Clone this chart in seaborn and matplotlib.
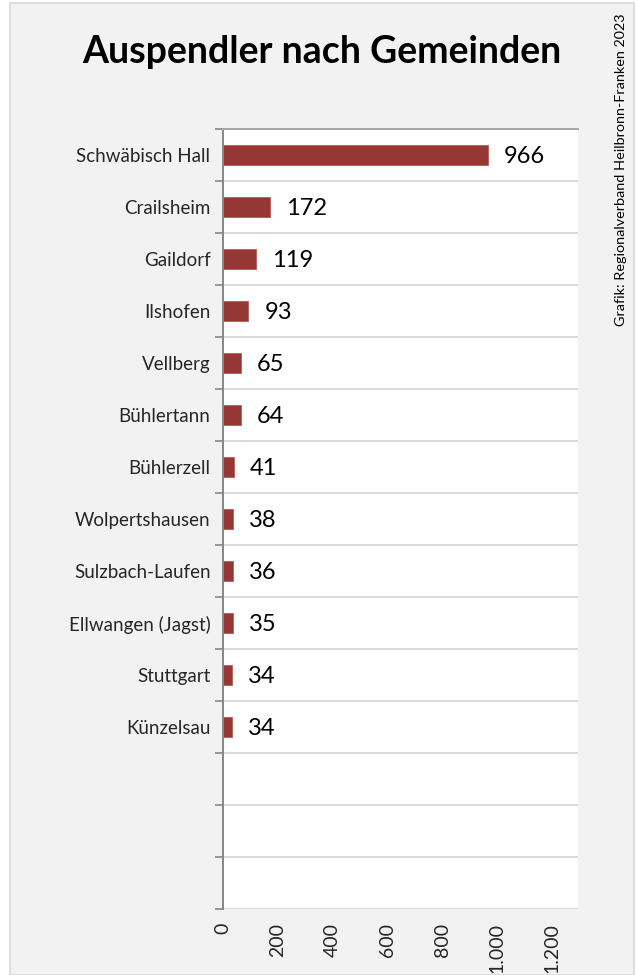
import matplotlib
matplotlib.use("Agg")
import matplotlib.pyplot as plt
import seaborn as sns
import pandas as pd
from matplotlib.ticker import FixedLocator, FuncFormatter
from matplotlib.patches import Rectangle

gemeinden = ["Schwäbisch Hall", "Crailsheim", "Gaildorf", "Ilshofen", "Vellberg",
             "Bühlertann", "Bühlerzell", "Wolpertshausen", "Sulzbach-Laufen",
             "Ellwangen (Jagst)", "Stuttgart", "Künzelsau"]
auspendler = [966, 172, 119, 93, 65, 64, 41, 38, 36, 35, 34, 34]
x_ticks = [0, 200, 400, 600, 800, 1000, 1200]
title = "Auspendler nach Gemeinden"
source = "Grafik: Regionalverband Heilbronn-Franken 2023"

sns.set_theme(style="white")
plt.rcParams['font.family'] = ['Lato', 'DejaVu Sans']

df = pd.DataFrame({"Gemeinde": gemeinden, "Auspendler": auspendler})

fig = plt.figure(figsize=(6.37, 9.75), dpi=100)
fig.patch.set_facecolor("white")
bg = Rectangle((10/637, 0), (634-10)/637, 1 - 3/975,
               transform=fig.transFigure, facecolor="#f2f2f2",
               edgecolor="#d9d9d9", linewidth=1.2, zorder=-10)
fig.patches.append(bg)

ax = fig.add_axes([223/637, 1 - 909/975, (578-223)/637, (909-129)/975])
ax.set_zorder(5)
ax.set_facecolor("white")

sns.barplot(data=df, y="Gemeinde", x="Auspendler", orient="h", color="#953735",
            width=0.4, edgecolor="#b85a58", linewidth=0.6, ax=ax, saturation=1)

n_rows = 15
ax.set_ylim(n_rows - 0.5, -0.5)
ax.set_xlim(0, 1295)

for i, v in enumerate(auspendler):
    ax.annotate(str(v), xy=(v, i), xytext=(11.5, -1), textcoords="offset points",
                va="center", ha="left", fontsize=17, color="black")

ax.xaxis.set_major_locator(FixedLocator(x_ticks))
ax.xaxis.set_major_formatter(FuncFormatter(lambda v, p: f"{int(v):,}".replace(",", ".")))
ax.tick_params(axis="x", length=0, pad=10, labelsize=14, labelrotation=90)

ax.yaxis.set_minor_locator(FixedLocator([k - 0.5 for k in range(n_rows + 1)]))
ax.tick_params(axis="y", which="major", length=0, pad=9, labelsize=13.5)
ax.tick_params(axis="y", which="minor", length=6, width=1.2, color="#868686", direction="out", left=True)
ax.grid(True, axis="y", which="minor", color="#d9d9d9", linewidth=1.4)
ax.grid(False, axis="y", which="major")
ax.grid(False, axis="x")
ax.set_axisbelow(True)

ax.set_xlabel("")
ax.set_ylabel("")
for s in ["right", "bottom"]:
    ax.spines[s].set_visible(False)
ax.spines["top"].set_color("#a6a6a6")
ax.spines["top"].set_linewidth(1.4)
ax.spines["left"].set_color("#868686")
ax.spines["left"].set_linewidth(1.4)

fig.text(322/637, 1 - 52/975, title, ha="center", va="center", fontsize=27,
         fontweight="bold", color="black")
fig.text(621/637, 1 - 170/975, source, ha="center", va="center", rotation=90,
         fontsize=10.4, color="black")

fig.savefig("out.png", dpi=100)
